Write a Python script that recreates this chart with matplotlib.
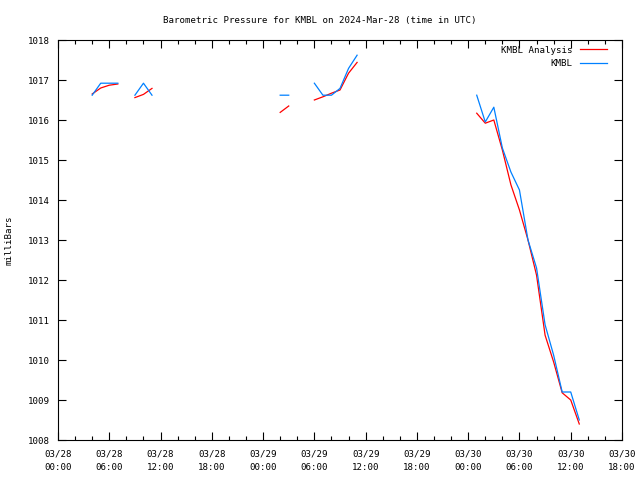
import numpy as np
import matplotlib
matplotlib.use("Agg")
import matplotlib.pyplot as plt
from matplotlib.ticker import FixedLocator, MultipleLocator

nan = np.nan
# hours since 2024-03-28 00:00 UTC
hours = [4, 5, 6, 7, 8, 9, 10, 11, 12,
         25, 26, 27, 28, 29,
         30, 31, 32, 33, 34, 35, 36,
         48, 49, 50, 51, 52, 53, 54, 55, 56, 57, 58, 59, 60, 61]
kmbl = [1016.62, 1016.92, 1016.92, 1016.92, nan, 1016.62, 1016.92, 1016.62, nan,
        nan, 1016.62, 1016.62, nan, nan,
        1016.92, 1016.62, 1016.62, 1016.79, 1017.29, 1017.62, nan,
        nan, 1016.62, 1015.95, 1016.32, 1015.30, 1014.70, 1014.25, 1013.00,
        1012.30, 1010.88, 1010.12, 1009.20, 1009.20, 1008.50]
analysis = [1016.65, 1016.80, 1016.87, 1016.90, nan, 1016.56, 1016.64, 1016.79, nan,
            nan, 1016.19, 1016.35, nan, nan,
            1016.50, 1016.58, 1016.67, 1016.75, 1017.17, 1017.44, nan,
            nan, 1016.17, 1015.92, 1016.00, 1015.25, 1014.38, 1013.75, 1013.00,
            1012.12, 1010.62, 1009.95, 1009.18, 1009.00, 1008.40]

tick_hours = [0, 6, 12, 18, 24, 30, 36, 42, 48, 54, 60, 66]
tick_labels = ["03/28\n00:00", "03/28\n06:00", "03/28\n12:00", "03/28\n18:00",
               "03/29\n00:00", "03/29\n06:00", "03/29\n12:00", "03/29\n18:00",
               "03/30\n00:00", "03/30\n06:00", "03/30\n12:00", "03/30\n18:00"]
y_ticks = list(range(1008, 1019))

plt.rcParams['font.family'] = ['DejaVu Sans Mono']
plt.rcParams['font.size'] = 6.6

fig = plt.figure(figsize=(6.4, 4.8), dpi=100)
ax = fig.add_axes([58/640, 40/480, 564/640, 400/480])

ax.plot(hours, analysis, color='#ff0000', lw=0.9, label='KMBL Analysis')
ax.plot(hours, kmbl, color='#0080ff', lw=0.9, label='KMBL')

ax.set_xlim(0, 66)
ax.set_ylim(1008, 1018)
ax.xaxis.set_major_locator(FixedLocator(tick_hours))
ax.set_xticklabels(tick_labels, linespacing=1.55)
ax.xaxis.set_minor_locator(MultipleLocator(2))
ax.yaxis.set_major_locator(FixedLocator(y_ticks))
ax.set_yticklabels([str(v) for v in y_ticks])
ax.tick_params(which='both', direction='in', top=True, right=True, color='black', width=0.8)
ax.tick_params(which='major', length=6)
ax.tick_params(axis='x', which='major', pad=7)
ax.tick_params(axis='y', which='major', pad=6)
ax.tick_params(which='minor', length=3)
for s in ax.spines.values():
    s.set_linewidth(0.8)

ax.set_ylabel('milliBars', labelpad=10)
fig.text(0.5, 1 - 20/480, 'Barometric Pressure for KMBL on 2024-Mar-28 (time in UTC)',
         ha='center', va='center')

leg = ax.legend(loc='upper right', frameon=False, markerfirst=False,
                handlelength=3.0, handletextpad=0.8, borderaxespad=0.0,
                labelspacing=0.5, bbox_to_anchor=(0.98, 0.995))

fig.savefig('out.png', dpi=100)
